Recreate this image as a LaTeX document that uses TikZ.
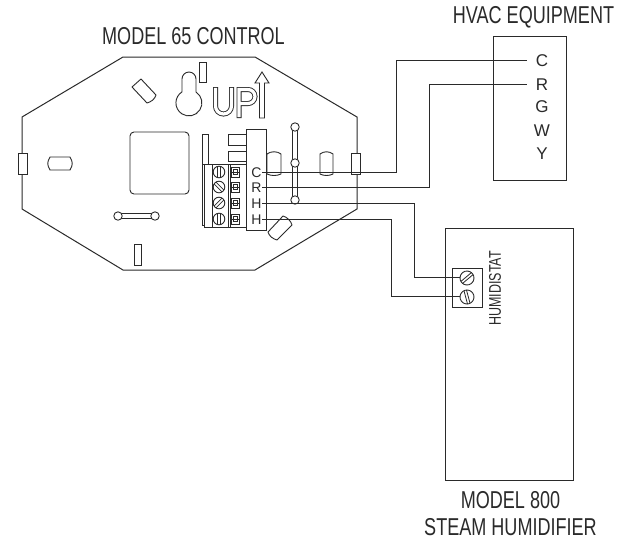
\documentclass[tikz,border=0pt]{standalone}
\usepackage{fontspec}
\setmainfont{Liberation Sans}
\newfontfamily\condfont[FakeStretch=0.74]{Liberation Sans}
\definecolor{ink}{HTML}{2A2A2A}
\tikzset{
  part/.style={draw=ink,line width=0.9pt,fill=white},
  outline/.style={draw=ink,line width=1pt},
  wire/.style={draw=ink,line width=1.2pt},
  title/.style={font=\condfont\fontsize{24.4}{25}\selectfont,text=ink,inner sep=0pt},
  term/.style={font=\fontsize{17}{17}\selectfont,text=ink,inner sep=0pt},
  lab/.style={font=\fontsize{14}{14}\selectfont,text=ink,inner sep=0pt},
  logo/.style={draw=ink,line width=5pt,postaction={draw=white,line width=3.2pt,shorten >=0.9pt,shorten <=0.9pt}},
  barrel/.style={part,line join=round},
}
\newcommand{\screw}[4]{% x, y, radius, angle
  \begin{scope}[shift={(#1,#2)},rotate=#4]
    \draw[part] (0,0) circle (#3);
    \draw[ink,line width=0.8pt] (-1.3,-#3) -- (-1.3,#3) (1.3,-#3) -- (1.3,#3);
  \end{scope}}
\newcommand{\sqterm}[2]{% x, y
  \draw[part,line width=0.8pt] (#1-4,#2-5) rectangle (#1+4,#2+5);
  \draw[ink,line width=0.8pt] (#1-2,#2-2.5) rectangle (#1+2,#2+2.5) (#1-4,#2) -- (#1+4,#2);}
\begin{document}
\begin{tikzpicture}[x=1pt,y=-1pt]
\useasboundingbox (0,0) rectangle (627,542);
\fill[white] (0,0) rectangle (627,542);

% housing
\draw[outline] (123,57) -- (255,57) -- (357,117) -- (357,209) -- (255,270) -- (123,270) -- (22,209) -- (22,117) -- cycle;
\draw[part] (18,153) rectangle (27,174);
\draw[part] (351,153) rectangle (360,174);

% oval slots
\draw[barrel] (50,157) -- (70,157) .. controls (73,162) and (73,165) .. (70,170) -- (50,170) .. controls (47,165) and (47,162) .. (50,157) -- cycle;
\draw[barrel] (132,87) -- (141,79) -- (156,95) .. controls (155,99) and (151,102) .. (147,103) -- cycle;
\draw[barrel] (268,232) -- (283,216) .. controls (287,217) and (291,221) .. (292,225) -- (277,240) .. controls (273,239) and (269,236) .. (268,232) -- cycle;
\draw[barrel] (267,154) .. controls (271,151) and (277,151) .. (281,154) -- (281,174) .. controls (277,176) and (271,176) .. (267,174) -- cycle;
\draw[barrel] (320,154) .. controls (324,151) and (329,151) .. (333,154) -- (333,174) .. controls (329,176) and (324,176) .. (320,174) -- cycle;

% small slots
\draw[part] (199,62) rectangle (206,82);
\draw[part] (134,244) rectangle (141,265);

% keyhole
\draw[part] (182,92) -- (182,79) arc[start angle=180,end angle=360,radius=7] -- (196,92) arc[start angle=-57,end angle=237,radius=13] -- cycle;

% square opening
\draw[part,rounded corners=4pt] (130,132) rectangle (189,194);

% UP logo
\draw[logo] (215.5,87) -- (215.5,106) arc[start angle=180,end angle=0,radius=8] -- (231.5,87);
\draw[logo] (239,118) -- (239,89.5) -- (248,89.5) arc[start angle=-90,end angle=90,radius=7] -- (239,103.5);
\draw[part] (259.5,118) -- (259.5,83) -- (255,83) -- (262,72) -- (269,83) -- (264.5,83) -- (264.5,118) -- cycle;

% slotted bars
\draw[part] (292.5,127) rectangle (297.5,200);
\draw[part] (295,127) circle (4.2);
\draw[part] (295,163) circle (4.2);
\draw[part] (295,200) circle (4.2);
\draw[part] (118,213.5) rectangle (155,218.5);
\draw[part] (118,216) circle (4.2);
\draw[part] (155,216) circle (4.2);

% connector and terminal block
\draw[part] (202,134) rectangle (208,164);
\draw[ink,line width=0.9pt] (202,164) -- (202,225) -- (204,225);
\draw[part] (228,134) rectangle (246,145);
\draw[part] (228,151) rectangle (246,161);
\draw[part] (246,129) rectangle (266,230);
\draw[part] (204,164) rectangle (246,227);
\draw[ink,line width=0.9pt] (212,164) -- (212,227) (228,164) -- (228,227) (230,164) -- (230,227);
\screw{219}{172}{5.8}{0}
\screw{219}{187}{5.8}{45}
\screw{219}{203}{5.8}{-45}
\screw{219}{219}{5.8}{0}
\sqterm{235}{172}
\sqterm{235}{187}
\sqterm{235}{203}
\sqterm{235}{219}

% boxes
\node[draw=ink,line width=1pt,minimum width=73pt,minimum height=144pt,inner sep=0pt] (hvac) at (529.5,108) {};
\node[draw=ink,line width=1pt,minimum width=128pt,minimum height=252pt,inner sep=0pt] (steam) at (509,354) {};
\node[draw=ink,line width=1pt,minimum width=30pt,minimum height=39pt,inner sep=0pt] (block) at (467,287.5) {};

% labels
\node[title] (t65) at (193.5,36) {MODEL 65 CONTROL};
\node[title] (thvac) at (533.5,17.5) {HVAC EQUIPMENT};
\node[title] (t800) at (510.5,500) {MODEL 800};
\node[title] (tsteam) at (510.5,527.5) {STEAM HUMIDIFIER};
\node[title,font=\condfont\fontsize{16.9}{17}\selectfont,rotate=90] (thum) at (495,288.5) {HUMIDISTAT};
\node[term] (hc) at (542,60.5) {C};
\node[term] (hr) at (542,84.5) {R};
\node[term] (hg) at (542,107) {G};
\node[term] (hw) at (542,131) {W};
\node[term] (hy) at (542,154) {Y};
\node[lab] (lc) at (256.5,172.5) {C};
\node[lab] (lr) at (256.5,187.5) {R};
\node[lab] (lh1) at (256.5,203.5) {H};
\node[lab] (lh2) at (256.5,219.5) {H};

% wires
\coordinate (wc) at (396.5,60.5);
\coordinate (wr) at (429.5,188);
\coordinate (s1) at (467,277.5);
\coordinate (s2) at (467,296.5);
\coordinate (w1) at (414.5,0);
\coordinate (w2) at (391.5,0);
\coordinate (ec) at (527,60.5);
\coordinate (er) at (527,84.5);
\coordinate (pc) at (262,172.5);
\coordinate (pr) at (262,187.5);
\coordinate (ph1) at (262,203.5);
\coordinate (ph2) at (262,219.5);
\draw[wire] (pc) -- (wc |- pc) -- (wc) -- (ec);
\draw[wire] (pr) -- (wr |- pr) -- (wr |- er) -- (er);
\draw[wire] (ph1) -- (w1 |- ph1) -- (w1 |- s1) -- (s1);
\draw[wire] (ph2) -- (w2 |- ph2) -- (w2 |- s2) -- (s2);

% humidistat screws
\screw{467}{278}{7}{-50}
\screw{467}{297}{7}{15}
\end{tikzpicture}
\end{document}
